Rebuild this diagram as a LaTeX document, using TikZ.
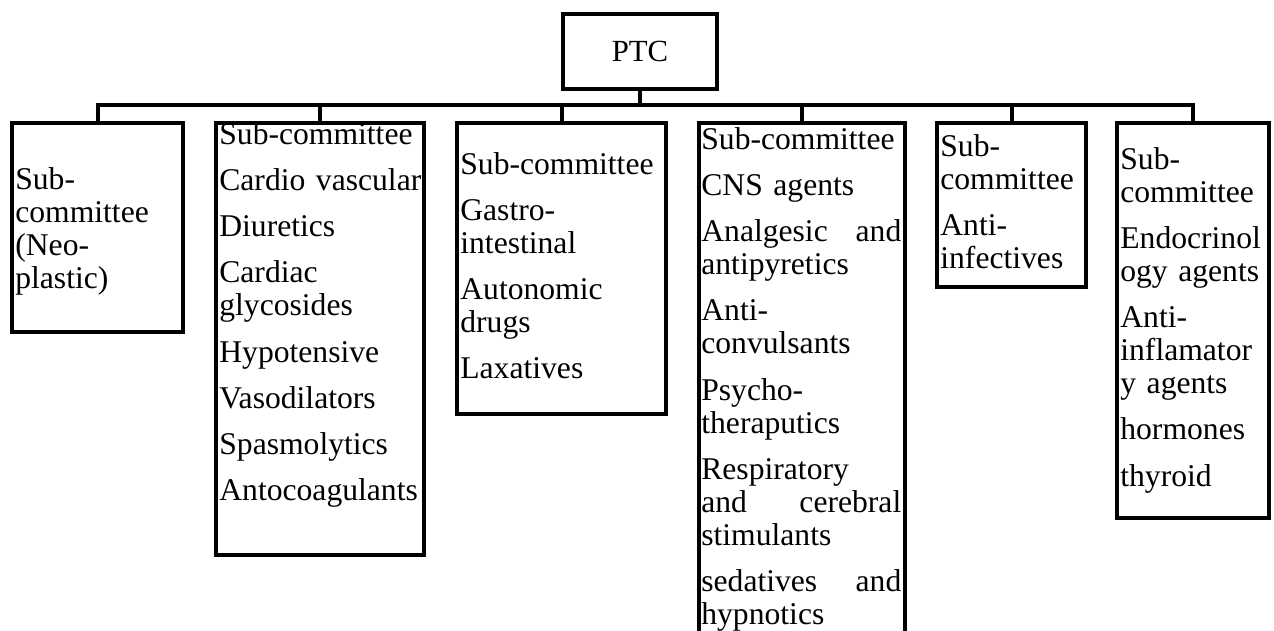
\documentclass[tikz,border=0pt]{standalone}
\usepackage{fontspec}
\setmainfont{Liberation Serif}
\usepackage{tikz}
\usetikzlibrary{positioning,calc,shapes}

\newcommand{\nx}{\\[0.265cm]}

\begin{document}
\begin{tikzpicture}[x=0.02cm, y=-0.02cm,
        box/.style={draw, rectangle, line width=0.08cm, inner sep=0pt},
        txt/.style={anchor=base west, inner sep=0pt, align=left, font=\fontsize{18}{18.8}\selectfont},
        link/.style={line width=0.08cm}]
        \useasboundingbox (0,0) rectangle (1274,630);
        \clip (0,0) rectangle (1274,630);

        % frames
        \node[box, minimum width=3.08cm, minimum height=1.5cm, font=\fontsize{17.5}{18.8}\selectfont] (ptc) at (640,51.5) {PTC};
        \node[box, minimum width=3.42cm, minimum height=4.18cm] (b1) at (97.5,227.5) {};
        \node[box, minimum width=4.16cm, minimum height=8.64cm] (b2) at (320,339) {};
        \node[box, minimum width=4.18cm, minimum height=5.82cm] (b3) at (561.5,268.5) {};
        \node[box, minimum width=4.12cm, minimum height=10.74cm] (b4) at (802,391.5) {};
        \node[box, minimum width=2.98cm, minimum height=3.28cm] (b5) at (1011.5,205) {};
        \node[box, minimum width=3.04cm, minimum height=7.90cm] (b6) at (1193,320.5) {};

        % texts
        \node[txt, text width=3.3cm] (t1) at (15,189) {Sub-\\committee\\(Neo-\\plastic)};
        \node[txt, text width=4.06cm] (t2) at (219,144) {Sub-committee\nx Cardio vascular\nx Diuretics\nx Cardiac\\glycosides\nx Hypotensive\nx Vasodilators\nx Spasmolytics\nx Antocoagulants};
        \node[txt, text width=4.08cm] (t3) at (460,174) {Sub-committee\nx Gastro-\\intestinal\nx Autonomic\\drugs\nx Laxatives};
        \node[txt, text width=4.0cm] (t4) at (701,149) {Sub-committee\nx CNS agents\nx Analgesic\hfill and\\antipyretics\nx Anti-\\convulsants\nx Psycho-\\theraputics\nx Respiratory\\and\hfill cerebral\\stimulants\nx sedatives\hfill and\\hypnotics};
        \node[txt, text width=2.88cm] (t5) at (940,156) {Sub-\\committee\nx Anti-\\infectives};
        \node[txt, text width=2.94cm] (t6) at (1120,169) {Sub-\\committee\nx Endocrinol\\ogy agents\nx Anti-\\inflamator\\y agents\nx hormones\nx thyroid};

        % tree lines
        \coordinate (bus) at (640,105);
        \draw[link] (ptc.south) -- (bus);
        \foreach \b in {b1,b2,b3,b4,b5,b6}
            \draw[link] (bus) -| (\b.north);
    \end{tikzpicture}
\end{document}
